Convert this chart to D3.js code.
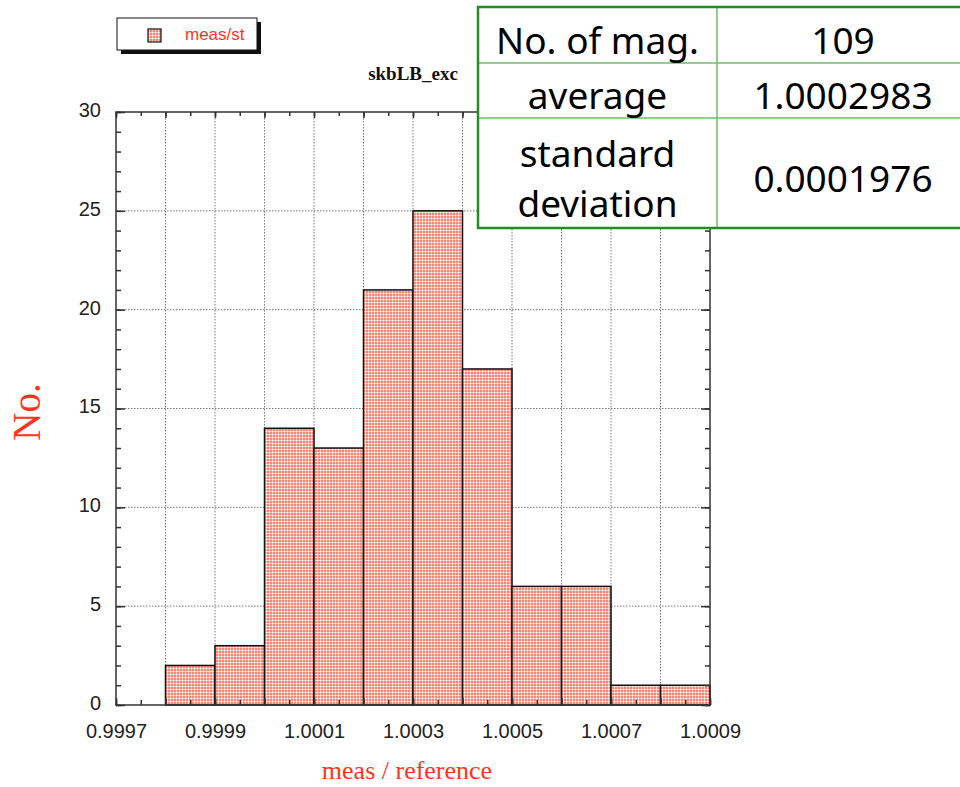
<!DOCTYPE html>
<html>
<head>
<meta charset="utf-8">
<script src="https://cdn.jsdelivr.net/npm/d3@7"></script>
<style>
  body { margin: 0; background: #fff; }
  svg { display: block; }
</style>
</head>
<body>
<div id="chart"></div>
<script>
// --- Data ---
const binStarts = [0.9998, 0.9999, 1.0000, 1.0001, 1.0002, 1.0003, 1.0004, 1.0005, 1.0006, 1.0007, 1.0008];
const counts    = [2, 3, 14, 13, 21, 25, 17, 6, 6, 1, 1];
const binWidth  = 0.0001;

const xLabels = ["0.9997", "0.9999", "1.0001", "1.0003", "1.0005", "1.0007", "1.0009"];
const yLabels = [0, 5, 10, 15, 20, 25, 30];

const tableLabels = [["No. of mag."], ["average"], ["standard", "deviation"]];
const tableValues = ["109", "1.0002983", "0.0001976"];

const legendText = "meas/st";
const titleText = "skbLB_exc";
const xTitle = "meas / reference";
const yTitle = "No.";

// --- Layout ---
const W = 960, H = 787;
const plot = { left: 116, right: 710, top: 112, bottom: 705 };
const red = "#ff3322";

const svg = d3.select("#chart").append("svg")
  .attr("width", W)
  .attr("height", H);

// dotted salmon fill used for the bars and the legend swatch
const defs = svg.append("defs");
const pat = defs.append("pattern")
  .attr("id", "check")
  .attr("patternUnits", "userSpaceOnUse")
  .attr("width", 3).attr("height", 3);
pat.append("rect").attr("width", 3).attr("height", 3).attr("fill", "#f58777");
pat.append("rect").attr("x", 2).attr("y", 2).attr("width", 1).attr("height", 1).attr("fill", "#ffffff");
pat.append("rect").attr("x", 2).attr("y", 0).attr("width", 1).attr("height", 2).attr("fill", "#fbc6bc");
pat.append("rect").attr("x", 0).attr("y", 2).attr("width", 2).attr("height", 1).attr("fill", "#fbc6bc");

// scales
const x = d3.scaleLinear().domain([0.9997, 1.0009]).range([plot.left, plot.right]);
const y = d3.scaleLinear().domain([0, 30]).range([plot.bottom, plot.top]);

// tick positions: major every 0.0001 (label every 0.0002), minor every 0.00005
const xMajor = d3.range(13).map(i => 0.9997 + i * 0.0001);
const xMinor = d3.range(25).map(i => 0.9997 + i * 0.00005);
const yMinor = d3.range(31);

// --- dotted grid (behind the bars) ---
const grid = svg.append("g")
  .attr("stroke", "#7a7a7a")
  .attr("stroke-width", 1)
  .attr("stroke-dasharray", "1.5,1.5");
grid.selectAll(".gx").data(xMajor.slice(1, -1)).enter().append("line")
  .attr("x1", d => x(d)).attr("x2", d => x(d))
  .attr("y1", plot.top).attr("y2", plot.bottom);
grid.selectAll(".gy").data(yLabels.slice(1, -1)).enter().append("line")
  .attr("x1", plot.left).attr("x2", plot.right)
  .attr("y1", d => y(d)).attr("y2", d => y(d));

// --- bars ---
svg.append("g").selectAll("rect")
  .data(binStarts.map((b, i) => ({ x0: b, n: counts[i] })))
  .enter().append("rect")
  .attr("x", d => x(d.x0))
  .attr("y", d => y(d.n))
  .attr("width", d => x(d.x0 + binWidth) - x(d.x0))
  .attr("height", d => y(0) - y(d.n))
  .attr("fill", "url(#check)")
  .attr("stroke", "#111")
  .attr("stroke-width", 1.5);

// --- axes with inward ticks ---
const fmtX = d => {
  const hit = xLabels.find(l => Math.abs(+l - d) < 1e-9);
  return hit || "";
};
const axisStyle = g => {
  g.select(".domain").remove();
  g.selectAll(".tick line").attr("stroke", "#333").attr("stroke-width", 1.5);
};

svg.append("g")
  .attr("transform", `translate(0,${plot.bottom})`)
  .call(d3.axisBottom(x).tickValues(xMinor).tickSize(-5).tickFormat(""))
  .call(axisStyle);
const xAxis = svg.append("g")
  .attr("transform", `translate(0,${plot.bottom})`)
  .call(d3.axisBottom(x).tickValues(xMajor).tickSize(-7).tickPadding(19).tickFormat(fmtX))
  .call(axisStyle);
xAxis.selectAll("text")
  .attr("font-family", "'Liberation Sans', Arial, sans-serif")
  .attr("font-size", 20).attr("fill", "#222");

svg.append("g")
  .attr("transform", `translate(0,${plot.top})`)
  .call(d3.axisTop(x).tickValues(xMinor).tickSize(-4).tickFormat(""))
  .call(axisStyle);
svg.append("g")
  .attr("transform", `translate(0,${plot.top})`)
  .call(d3.axisTop(x).tickValues(xMajor).tickSize(-6).tickFormat(""))
  .call(axisStyle);

svg.append("g")
  .attr("transform", `translate(${plot.left},0)`)
  .call(d3.axisLeft(y).tickValues(yMinor).tickSize(-5).tickFormat(""))
  .call(axisStyle);
const yAxis = svg.append("g")
  .attr("transform", `translate(${plot.left},0)`)
  .call(d3.axisLeft(y).tickValues(yLabels).tickSize(-9).tickPadding(15))
  .call(axisStyle);
yAxis.selectAll("text")
  .attr("font-family", "'Liberation Sans', Arial, sans-serif")
  .attr("font-size", 20).attr("fill", "#222")
  .attr("dy", "0.22em");

svg.append("g")
  .attr("transform", `translate(${plot.right},0)`)
  .call(d3.axisRight(y).tickValues(yMinor).tickSize(-5).tickFormat(""))
  .call(axisStyle);
svg.append("g")
  .attr("transform", `translate(${plot.right},0)`)
  .call(d3.axisRight(y).tickValues(yLabels).tickSize(-9).tickFormat(""))
  .call(axisStyle);

// frame
svg.append("rect")
  .attr("x", plot.left).attr("y", plot.top)
  .attr("width", plot.right - plot.left).attr("height", plot.bottom - plot.top)
  .attr("fill", "none").attr("stroke", "#333").attr("stroke-width", 1.5);

// --- titles ---
svg.append("text")
  .attr("x", (plot.left + plot.right) / 2).attr("y", 80)
  .attr("text-anchor", "middle")
  .attr("font-family", "'Liberation Serif', 'Times New Roman', serif")
  .attr("font-weight", "bold").attr("font-size", 19).attr("fill", "#111")
  .text(titleText);

svg.append("text")
  .attr("x", 407).attr("y", 779)
  .attr("text-anchor", "middle")
  .attr("font-family", "'Liberation Serif', 'Times New Roman', serif")
  .attr("font-size", 26).attr("fill", red)
  .text(xTitle);

svg.append("text")
  .attr("transform", "translate(40,412) rotate(-90)")
  .attr("text-anchor", "middle")
  .attr("font-family", "'Liberation Serif', 'Times New Roman', serif")
  .attr("font-size", 39).attr("fill", red)
  .text(yTitle);

// --- legend with drop shadow ---
const leg = svg.append("g");
leg.append("rect").attr("x", 121).attr("y", 22).attr("width", 140).attr("height", 32).attr("fill", "#111");
leg.append("rect").attr("x", 117).attr("y", 18).attr("width", 140).attr("height", 32)
  .attr("fill", "#fff").attr("stroke", "#111").attr("stroke-width", 1);
leg.append("rect").attr("x", 148).attr("y", 29).attr("width", 13).attr("height", 13)
  .attr("fill", "url(#check)").attr("stroke", "#111").attr("stroke-width", 1.2);
leg.append("text").attr("x", 185).attr("y", 40)
  .attr("font-family", "'Liberation Sans', Arial, sans-serif")
  .attr("font-size", 17).attr("fill", red)
  .text(legendText);

// --- statistics table (overlaps the top right of the plot) ---
const tbl = { left: 478, mid: 717, right: 962, rows: [7, 63, 118, 228] };
const t = svg.append("g");
t.append("rect")
  .attr("x", tbl.left).attr("y", tbl.rows[0])
  .attr("width", tbl.right - tbl.left).attr("height", tbl.rows[3] - tbl.rows[0])
  .attr("fill", "#fff");
t.selectAll(".hl").data(tbl.rows.slice(1, 3)).enter().append("line")
  .attr("x1", tbl.left).attr("x2", tbl.right)
  .attr("y1", d => d).attr("y2", d => d)
  .attr("stroke", "#6cbf6c").attr("stroke-width", 1.5);
t.append("line")
  .attr("x1", tbl.mid).attr("x2", tbl.mid)
  .attr("y1", tbl.rows[0]).attr("y2", tbl.rows[3])
  .attr("stroke", "#6cbf6c").attr("stroke-width", 1.5);
t.append("rect")
  .attr("x", tbl.left).attr("y", tbl.rows[0])
  .attr("width", tbl.right - tbl.left).attr("height", tbl.rows[3] - tbl.rows[0])
  .attr("fill", "none").attr("stroke", "#1f8f1f").attr("stroke-width", 2.5);

const cellFont = "'Noto Sans', 'DejaVu Sans', sans-serif";
tableLabels.forEach((lines, i) => {
  const cy = (tbl.rows[i] + tbl.rows[i + 1]) / 2;
  lines.forEach((line, j) => {
    t.append("text")
      .attr("x", (tbl.left + tbl.mid) / 2)
      .attr("y", cy + (j - (lines.length - 1) / 2) * 50)
      .attr("dy", "0.5em")
      .attr("text-anchor", "middle")
      .attr("font-family", cellFont).attr("font-size", 37).attr("fill", "#000")
      .text(line);
  });
  t.append("text")
    .attr("x", 843).attr("y", cy).attr("dy", "0.5em")
    .attr("text-anchor", "middle")
    .attr("font-family", cellFont).attr("font-size", 37).attr("fill", "#000")
    .text(tableValues[i]);
});
</script>
</body>
</html>
